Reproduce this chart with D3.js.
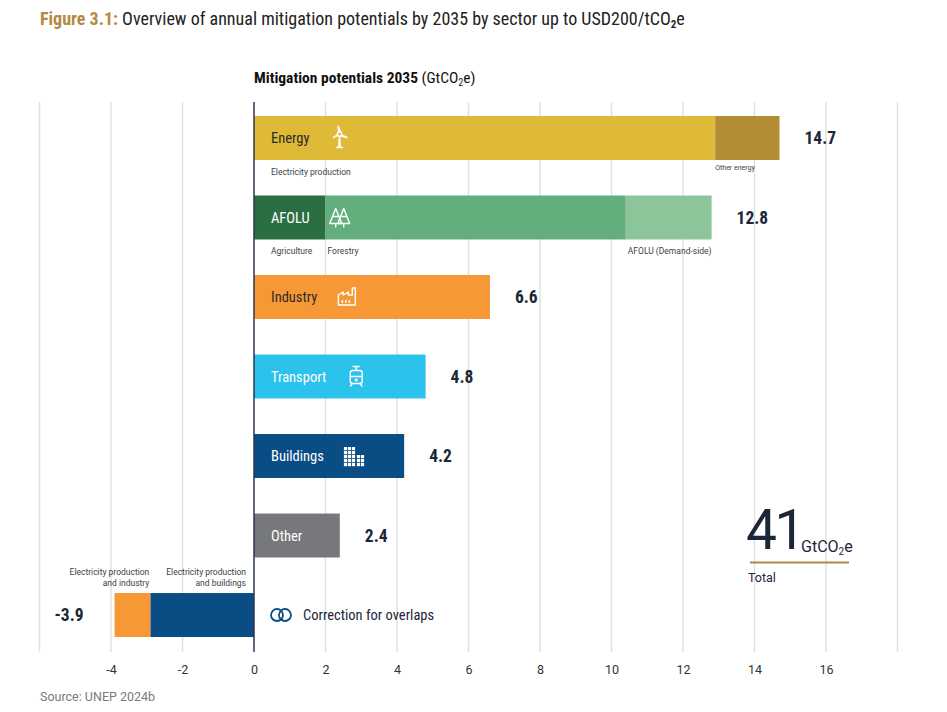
<!DOCTYPE html>
<html>
<head>
<meta charset="utf-8">
<script src="https://cdn.jsdelivr.net/npm/d3@7"></script>
<style>
  body { margin: 0; background: #fff; }
  svg { display: block; font-family: "Roboto Condensed", "Roboto", "Liberation Sans Narrow", sans-serif; }
</style>
</head>
<body>
<div id="chart"></div>
<script>
// data
const categories = ["Energy", "AFOLU", "Industry", "Transport", "Buildings", "Other", "Correction"];
const totals = [14.7, 12.8, 6.6, 4.8, 4.2, 2.4, -3.9];
const segRow = ["Energy", "Energy", "AFOLU", "AFOLU", "AFOLU", "Industry", "Transport", "Buildings", "Other", "Correction", "Correction"];
const segName = ["Electricity production", "Other energy", "Agriculture", "Forestry", "AFOLU (Demand-side)", "", "", "", "",
  "Electricity production|and buildings", "Electricity production|and industry"];
const segValue = [12.9, 1.8, 2.0, 8.4, 2.4, 6.6, 4.8, 4.2, 2.4, -2.9, -1.0];
const gridValues = [-6, -4, -2, 0, 2, 4, 6, 8, 10, 12, 14, 16, 18];
const tickValues = [-4, -2, 0, 2, 4, 6, 8, 10, 12, 14, 16];
const totalValue = 41;

// styles
const segColor = ["#dfba36", "#b38d35", "#2a6e42", "#62ae7d", "#8cc59a", "#f79837", "#2bc2ec", "#0a4d85", "#76787b", "#0a4d85", "#f79837"];
const labelColor = { Energy: "#2b2b2b", AFOLU: "#fff", Industry: "#2b2b2b", Transport: "#fff", Buildings: "#fff", Other: "#fff" };
const navy = "#1c2639";
const gold = "#b5893f";

const width = 947, height = 712;
const gridTop = 102, gridBottom = 652;

const x = d3.scaleLinear([-6, 18], [39.5, 897.5]);
const y = d3.scaleBand(categories, [116, 637]).paddingInner(0.447).paddingOuter(0);
const bh = y.bandwidth();

// stacked segment positions
const offsets = {};
const segs = segValue.map((v, i) => {
  const row = segRow[i];
  const s = offsets[row] || 0;
  offsets[row] = s + v;
  return { row, name: segName[i], value: v, x0: Math.min(s, s + v), x1: Math.max(s, s + v), start: s, color: segColor[i] };
});

const svg = d3.select("#chart").append("svg")
  .attr("width", width)
  .attr("height", height)
  .attr("viewBox", [0, 0, width, height]);

// title
const title = svg.append("text").attr("x", 40).attr("y", 25).attr("font-size", 18).attr("fill", "#222");
title.append("tspan").attr("fill", gold).attr("font-weight", 700).text("Figure 3.1: ");
title.append("tspan").text("Overview of annual mitigation potentials by 2035 by sector up to USD200/tCO");
title.append("tspan").attr("font-size", 11).attr("font-weight", 700).attr("dy", 3).text("2");
title.append("tspan").attr("dy", -3).text("e");

const sub = svg.append("text").attr("x", x(0)).attr("y", 83).attr("font-size", 15.5).attr("fill", "#111");
sub.append("tspan").attr("font-weight", 700).text("Mitigation potentials 2035 ");
sub.append("tspan").text("(GtCO");
sub.append("tspan").attr("font-size", 10).attr("dy", 3).text("2");
sub.append("tspan").attr("dy", -3).text("e)");

// grid
svg.append("g")
  .selectAll("line")
  .data(gridValues.filter(d => d !== 0))
  .join("line")
  .attr("x1", d => x(d)).attr("x2", d => x(d))
  .attr("y1", gridTop).attr("y2", gridBottom)
  .attr("stroke", "#e1e1e1")
  .attr("stroke-width", 1.5);

// x axis tick labels
const xAxis = d3.axisBottom(x).tickValues(tickValues).tickSize(0).tickPadding(0)
  .tickFormat(d => String(d));
svg.append("g")
  .attr("transform", `translate(0,${gridBottom + 13})`)
  .call(xAxis)
  .call(g => g.select(".domain").remove())
  .call(g => g.selectAll(".tick text")
    .attr("font-size", 12.5)
    .attr("font-family", "Roboto, sans-serif")
    .attr("fill", "#333"));

// bars
svg.append("g")
  .selectAll("rect")
  .data(segs)
  .join("rect")
  .attr("x", d => x(d.x0))
  .attr("y", d => y(d.row))
  .attr("width", d => x(d.x1) - x(d.x0))
  .attr("height", bh)
  .attr("fill", d => d.color);

// zero line
svg.append("line")
  .attr("x1", x(0)).attr("x2", x(0))
  .attr("y1", gridTop).attr("y2", gridBottom)
  .attr("stroke", "#2c3550")
  .attr("stroke-width", 1.5);

// segment names (positive rows, below bars)
svg.append("g")
  .selectAll("text")
  .data(segs.filter(d => d.name && d.value > 0))
  .join("text")
  .attr("x", d => d.start === 0 ? x(0) + 17 : x(d.x0) + (d.row === "AFOLU" ? 2 : 0))
  .attr("y", d => y(d.row) + bh + (d.x1 - d.x0 < 2 ? 10 : 15))
  .attr("font-size", d => d.x1 - d.x0 < 2 ? 7 : 8.5)
  .attr("font-family", "Roboto, sans-serif")
  .attr("fill", "#3a3f4a")
  .text(d => d.name);

// segment names (correction row, above bar)
svg.append("g")
  .selectAll("text")
  .data(segs.filter(d => d.name && d.value < 0))
  .join("text")
  .attr("text-anchor", "end")
  .attr("font-size", 8.5)
  .attr("font-family", "Roboto, sans-serif")
  .attr("fill", "#3a3f4a")
  .each(function (d) {
    const t = d3.select(this);
    d.name.split("|").forEach((line, k) => {
      t.append("tspan")
        .attr("x", x(d.x1) - (d.x1 === 0 ? 8 : 1))
        .attr("y", y(d.row) - 18 + k * 11)
        .text(line);
    });
  });

// totals
svg.append("g")
  .selectAll("text")
  .data(categories.map((c, i) => ({ c, v: totals[i] })))
  .join("text")
  .attr("x", d => d.v >= 0 ? x(d.v) + 25 : x(d.v) - 31)
  .attr("text-anchor", d => d.v >= 0 ? "start" : "end")
  .attr("y", d => y(d.c) + bh / 2)
  .attr("dy", "0.36em")
  .attr("font-size", 17.5)
  .attr("font-weight", 700)
  .attr("fill", navy)
  .text(d => d3.format(".1f")(d.v).replace("−", "-"));

// category labels + icons
const icons = {
  Energy: g => {
    g.append("circle").attr("cx", 0).attr("cy", -4).attr("r", 2.2);
    g.append("path").attr("d", "M0,-2 L-0.8,9 M0.8,9 L0,-2 M-3.5,9.5 L3.5,9.5");
    g.append("path").attr("d", "M-0.8,-6 L-1.5,-12 L1.2,-6 M2,-3 L7.5,-0.5 L1.2,-2 M-2,-3.5 L-6,-0.5 L-1.5,-2.5");
  },
  AFOLU: g => {
    g.append("path").attr("d", "M-4,-9 L-10,6 L2,6 Z M-4,6 L-4,10 M-7.5,-1 L-0.5,-1");
    g.append("path").attr("d", "M4,-9 L-2,6 L10,6 Z M4,6 L4,10 M0.5,-1 L7.5,-1");
  },
  Industry: g => {
    g.append("path").attr("d", "M-9,8 L-9,-2 L-4,-5 L-4,-2 L1,-5 L1,-2 L5,-2 L5,-9 L8,-9 L8,8 Z");
    g.append("path").attr("d", "M-5,3 L-5,6 M-1.5,3 L-1.5,6 M2,3 L2,6");
  },
  Transport: g => {
    g.append("rect").attr("x", -6).attr("y", -6).attr("width", 12).attr("height", 13).attr("rx", 2.5);
    g.append("path").attr("d", "M-3.5,-10 L3.5,-10 M0,-10 L0,-6 M-6,0 L6,0 M-4,7 L-6,10 M4,7 L6,10");
    g.append("circle").attr("cx", 0).attr("cy", 3.5).attr("r", 0.8).attr("fill", "#fff");
  },
  Buildings: g => {
    const sq = [];
    for (let r = 0; r < 5; r++) for (let c = 0; c < 3; c++) sq.push([-10 + c * 4, -9 + r * 4]);
    for (let r = 0; r < 3; r++) for (let c = 0; c < 2; c++) sq.push([3 + c * 4, -1 + r * 4]);
    g.selectAll("rect").data(sq).join("rect")
      .attr("x", d => d[0]).attr("y", d => d[1])
      .attr("width", 3.2).attr("height", 3.2)
      .attr("fill", "#fff").attr("stroke", "none");
  }
};

categories.filter(c => c !== "Correction").forEach(c => {
  const t = svg.append("text")
    .attr("x", x(0) + 17)
    .attr("y", y(c) + bh / 2)
    .attr("dy", "0.36em")
    .attr("font-size", 14.5)
    .attr("fill", labelColor[c])
    .text(c);
  if (icons[c]) {
    const w = t.node().getComputedTextLength();
    const g = svg.append("g")
      .attr("transform", `translate(${x(0) + 17 + w + 30},${y(c) + bh / 2})`)
      .attr("fill", "none")
      .attr("stroke", "#fff")
      .attr("stroke-width", 1.4)
      .attr("stroke-linejoin", "round");
    icons[c](g);
  }
});

// correction label
const cy = y("Correction") + bh / 2;
svg.append("g")
  .attr("transform", `translate(${x(0) + 27},${cy})`)
  .attr("fill", "none")
  .attr("stroke", "#0a4d85")
  .attr("stroke-width", 1.8)
  .selectAll("circle")
  .data([-4, 4])
  .join("circle")
  .attr("cx", d => d)
  .attr("cy", 0)
  .attr("r", 6);
svg.append("text")
  .attr("x", x(0) + 49)
  .attr("y", cy)
  .attr("dy", "0.36em")
  .attr("font-size", 14.5)
  .attr("fill", navy)
  .text("Correction for overlaps");

// total block
svg.append("text")
  .attr("x", 746).attr("y", 549)
  .attr("font-size", 55)
  .attr("font-family", "Roboto, sans-serif")
  .attr("fill", navy)
  .attr("letter-spacing", -2.5)
  .text(totalValue);
const unit = svg.append("text").attr("x", 801).attr("y", 552).attr("font-size", 16).attr("font-family", "Roboto, sans-serif").attr("fill", navy);
unit.append("tspan").text("GtCO");
unit.append("tspan").attr("font-size", 10).attr("dy", 3).text("2");
unit.append("tspan").attr("dy", -3).text("e");
svg.append("line")
  .attr("x1", 750).attr("x2", 849)
  .attr("y1", 562.5).attr("y2", 562.5)
  .attr("stroke", "#b08a4a")
  .attr("stroke-width", 2);
svg.append("text")
  .attr("x", 748).attr("y", 582)
  .attr("font-size", 12.5)
  .attr("font-family", "Roboto, sans-serif")
  .attr("fill", navy)
  .text("Total");

// source
svg.append("text")
  .attr("x", 40).attr("y", 701)
  .attr("font-size", 12.5)
  .attr("font-family", "Roboto, sans-serif")
  .attr("fill", "#7a7a7a")
  .text("Source: UNEP 2024b");
</script>
</body>
</html>
